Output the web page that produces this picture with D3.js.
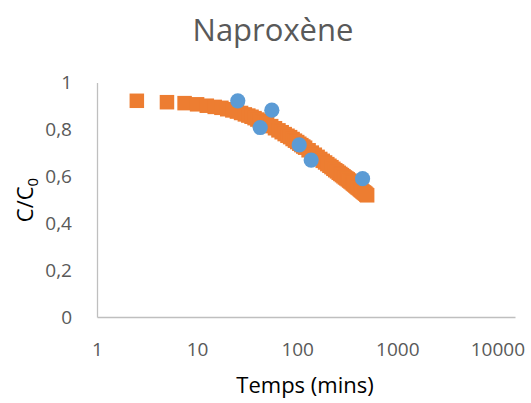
<!DOCTYPE html>
<html>
<head>
<meta charset="utf-8">
<script src="https://cdn.jsdelivr.net/npm/d3@7"></script>
<style>
  html, body { margin: 0; padding: 0; background: #fff; }
  svg { display: block; font-family: "Open Sans", "Noto Sans", sans-serif; }
</style>
</head>
<body>
<svg id="chart" width="531" height="403"></svg>
<script>
// Model series (orange squares): time (mins) and C/C0
const modelTimes = [2.5, 5, 7.5, 10, 12.5, 15, 17.5, 20, 22.5, 25, 27.5, 30, 32.5, 35, 37.5, 40, 42.5, 45, 47.5, 50,
  55, 60, 65, 70, 75, 80, 85, 90, 95, 100, 105, 110, 115, 120,
  130, 140, 150, 160, 170, 180, 190, 200, 210, 220, 230, 240, 250,
  260, 270, 280, 290, 300, 310, 320, 330, 340, 350, 360, 370, 380, 390, 400,
  410, 420, 430, 440, 450, 460, 470, 480, 490, 500];
const modelValues = [0.922, 0.916, 0.912, 0.907, 0.901, 0.896, 0.892, 0.886, 0.881, 0.876, 0.870, 0.864, 0.859, 0.854, 0.848, 0.842, 0.837, 0.832, 0.827, 0.823,
  0.814, 0.805, 0.796, 0.788, 0.780, 0.773, 0.767, 0.759, 0.752, 0.746, 0.739, 0.733, 0.727, 0.722,
  0.711, 0.701, 0.692, 0.683, 0.674, 0.666, 0.659, 0.652, 0.645, 0.639, 0.632, 0.626, 0.621,
  0.615, 0.610, 0.605, 0.600, 0.595, 0.591, 0.587, 0.582, 0.578, 0.574, 0.569, 0.565, 0.561, 0.557, 0.553,
  0.550, 0.546, 0.542, 0.539, 0.535, 0.532, 0.529, 0.526, 0.522, 0.519];

// Experimental series (blue circles)
const expTimes = [25.5, 42.7, 55.8, 104.7, 138, 450];
const expValues = [0.922, 0.808, 0.882, 0.734, 0.669, 0.590];

// Axis ticks
const xTicks = [1, 10, 100, 1000, 10000];
const yTicks = [0, 0.2, 0.4, 0.6, 0.8, 1];

const svg = d3.select("#chart");

const x = d3.scaleLog().domain([1, 15000]).range([97, 515]);
const y = d3.scaleLinear().domain([0, 1]).range([317, 82.5]);

const axisColor = "#BFBFBF";
const labelColor = "#595959";

// X axis
const gx = svg.append("g")
  .attr("transform", `translate(0,${y(0)})`)
  .call(d3.axisBottom(x).tickValues(xTicks).tickSize(0).tickSizeOuter(0)
    .tickPadding(26).tickFormat(d3.format("d")));
gx.select(".domain").attr("stroke", axisColor).attr("stroke-width", 1.3);
gx.selectAll("text").attr("fill", labelColor).attr("font-size", 19)
  .attr("font-family", "'Open Sans', sans-serif");

// Y axis
const gy = svg.append("g")
  .attr("transform", `translate(${x(1)},0)`)
  .call(d3.axisLeft(y).tickValues(yTicks).tickSize(0).tickSizeOuter(0)
    .tickPadding(25).tickFormat(d => d === 0 ? "0" : d === 1 ? "1" : String(d).replace(".", ",")));
gy.select(".domain").attr("stroke", axisColor).attr("stroke-width", 1.3);
gy.selectAll("text").attr("fill", labelColor).attr("font-size", 19)
  .attr("font-family", "'Open Sans', sans-serif");

// Model squares
const sq = 14.5;
svg.append("g").selectAll("rect")
  .data(modelTimes.map((t, i) => [t, modelValues[i]]))
  .join("rect")
  .attr("x", d => x(d[0]) - sq / 2)
  .attr("y", d => y(d[1]) - sq / 2)
  .attr("width", sq)
  .attr("height", sq)
  .attr("fill", "#ED7D31");

// Experimental circles
svg.append("g").selectAll("circle")
  .data(expTimes.map((t, i) => [t, expValues[i]]))
  .join("circle")
  .attr("cx", d => x(d[0]))
  .attr("cy", d => y(d[1]))
  .attr("r", 7.6)
  .attr("fill", "#5B9BD5");

// Title
svg.append("text")
  .attr("x", 273).attr("y", 41)
  .attr("text-anchor", "middle")
  .attr("font-size", 31)
  .attr("fill", labelColor)
  .text("Naproxène");

// X axis title
svg.append("text")
  .attr("x", 305).attr("y", 393)
  .attr("text-anchor", "middle")
  .attr("font-size", 22)
  .attr("fill", "#000")
  .text("Temps (mins)");

// Y axis title
const yt = svg.append("text")
  .attr("transform", "translate(33,200) rotate(-90)")
  .attr("text-anchor", "middle")
  .attr("font-size", 22)
  .attr("fill", "#000");
yt.append("tspan").text("C/C");
yt.append("tspan").attr("font-size", 15).attr("dy", 5).text("0");
</script>
</body>
</html>
